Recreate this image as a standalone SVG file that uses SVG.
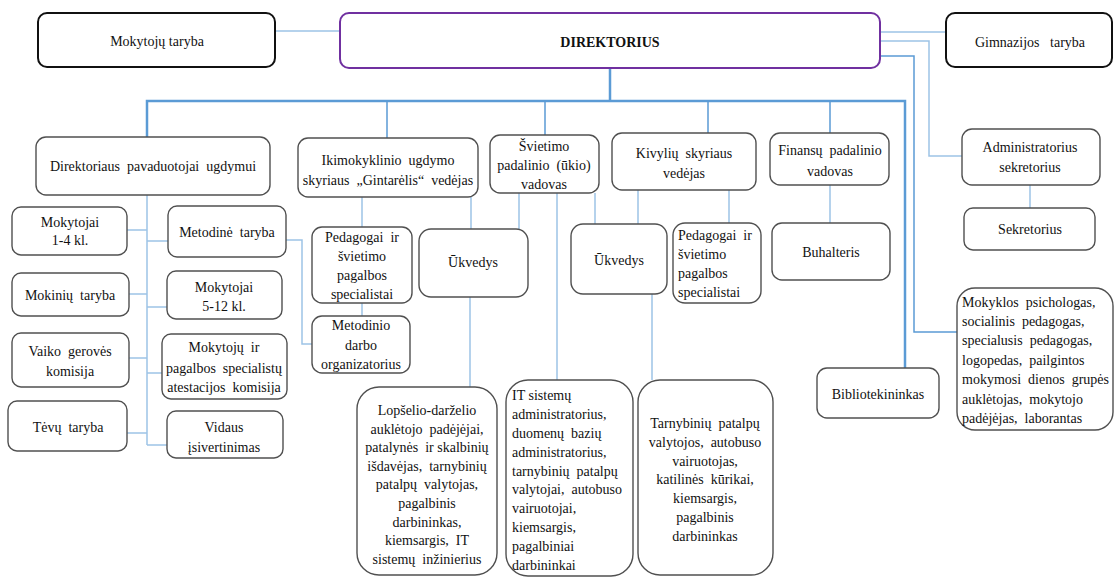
<svg xmlns="http://www.w3.org/2000/svg" width="1114" height="577" viewBox="0 0 1114 577">
<style>
text{font-family:"Liberation Serif","Times New Roman",serif;font-size:14px;fill:#111;}
.c{text-anchor:middle;}
.b{fill:#fff;stroke:#505050;stroke-width:1.4;}
.top{fill:#fff;stroke:#111;stroke-width:2;}
.dir{fill:#fff;stroke:#7030A0;stroke-width:2;}
.ln{fill:none;stroke:#9DC3E6;stroke-width:1.5;}
.lm{fill:none;stroke:#5B9BD5;stroke-width:1.5;}
.bus{fill:none;stroke:#5B9BD5;stroke-width:2.5;}
</style>
<rect width="1114" height="577" fill="#fff"/>
<g id="connectors">
<path class="ln" d="M275,31H340"/>
<path class="ln" d="M880,32H946"/>
<path class="ln" d="M880,41H929V156H962"/>
<path class="lm" d="M880,56H914V332H957"/>
<path class="bus" d="M610,68V101"/>
<path class="bus" d="M147,137V101H905V368"/>
<path class="lm" d="M387,101V138M545,101V135M708,101V133M830,101V133"/>
<path class="ln" d="M1030,185V208"/>
<path class="ln" d="M147,195V445"/>
<path class="ln" d="M127,230H147M147,241H168M129,294H147M147,307H167M129,358H147M147,373H162M127,433H147M147,445H167"/>
<path class="ln" d="M286,240H302V344H312"/>
<path class="ln" d="M362,197V227M362,303V316"/>
<path class="ln" d="M471,197V229M519,193V229"/>
<path class="ln" d="M470,297V387"/>
<path class="ln" d="M557,193V380"/>
<path class="ln" d="M595,193V224M638,190V224"/>
<path class="ln" d="M652,294V380"/>
<path class="ln" d="M729,190V223"/>
<path class="ln" d="M830,185V223"/>
</g>
<g id="mokytoju-taryba"><rect class="top" x="38" y="13" width="237" height="54" rx="9"/><text class="c" x="157" y="46">Mokytojų taryba</text></g>
<g id="direktorius"><rect class="dir" x="340" y="13" width="540" height="55" rx="9"/><text class="c" x="610" y="47" font-weight="bold">DIREKTORIUS</text></g>
<g id="gimnazijos-taryba"><rect class="top" x="946" y="13" width="166" height="54" rx="9"/><text class="c" x="1030" y="47" xml:space="preserve">Gimnazijos   taryba</text></g>
<g id="pavaduotojai"><rect class="b" x="36" y="137" width="234" height="58" rx="10"/><text class="c" x="153" y="171" xml:space="preserve">Direktoriaus  pavaduotojai  ugdymui</text></g>
<g id="ikimokyklinio"><rect class="b" x="298" y="138" width="180" height="59" rx="10"/><text class="c" x="388" y="165" xml:space="preserve">Ikimokyklinio  ugdymo</text><text class="c" x="388" y="185" xml:space="preserve">skyriaus  „Gintarėlis“  vedėjas</text></g>
<g id="svietimo"><rect class="b" x="490" y="135" width="109" height="58" rx="10"/><text class="c" x="544" y="151">Švietimo</text><text class="c" x="544" y="170" xml:space="preserve">padalinio  (ūkio)</text><text class="c" x="544" y="189">vadovas</text></g>
<g id="kivyliu"><rect class="b" x="612" y="133" width="144" height="57" rx="10"/><text class="c" x="684" y="158" xml:space="preserve">Kivylių  skyriaus</text><text class="c" x="684" y="178">vedėjas</text></g>
<g id="finansu"><rect class="b" x="770" y="133" width="119" height="52" rx="10"/><text class="c" x="830" y="155" xml:space="preserve">Finansų  padalinio</text><text class="c" x="830" y="176">vadovas</text></g>
<g id="administratorius"><rect class="b" x="962" y="129" width="138" height="56" rx="10"/><text class="c" x="1030" y="152">Administratorius</text><text class="c" x="1030" y="172">sekretorius</text></g>
<g id="sekretorius"><rect class="b" x="964" y="208" width="131" height="42" rx="9"/><text class="c" x="1030" y="234">Sekretorius</text></g>
<g id="mokytojai-1-4"><rect class="b" x="12" y="207" width="115" height="48" rx="9"/><text class="c" x="70" y="227">Mokytojai</text><text class="c" x="70" y="245">1-4 kl.</text></g>
<g id="metodine-taryba"><rect class="b" x="168" y="206" width="118" height="51" rx="9"/><text class="c" x="227" y="237" xml:space="preserve">Metodinė  taryba</text></g>
<g id="mokiniu-taryba"><rect class="b" x="12" y="273" width="117" height="43" rx="9"/><text class="c" x="70" y="300" xml:space="preserve">Mokinių  taryba</text></g>
<g id="mokytojai-5-12"><rect class="b" x="167" y="271" width="115" height="48" rx="9"/><text class="c" x="224" y="292">Mokytojai</text><text class="c" x="224" y="311">5-12 kl.</text></g>
<g id="vaiko-geroves"><rect class="b" x="12" y="333" width="117" height="54" rx="9"/><text class="c" x="70" y="356" xml:space="preserve">Vaiko  gerovės</text><text class="c" x="70" y="376">komisija</text></g>
<g id="atestacijos"><rect class="b" x="162" y="334" width="125" height="65" rx="9"/><text class="c" x="224" y="352" xml:space="preserve">Mokytojų  ir</text><text class="c" x="224" y="373" xml:space="preserve">pagalbos  specialistų</text><text class="c" x="224" y="392" xml:space="preserve">atestacijos  komisija</text></g>
<g id="tevu-taryba"><rect class="b" x="8" y="401" width="119" height="50" rx="9"/><text class="c" x="68" y="432" xml:space="preserve">Tėvų  taryba</text></g>
<g id="vidaus"><rect class="b" x="167" y="411" width="116" height="47" rx="9"/><text class="c" x="224" y="432">Vidaus</text><text class="c" x="224" y="452">įsivertinimas</text></g>
<g id="pedagogai-1"><rect class="b" x="312" y="227" width="100" height="76" rx="10"/><text class="c" x="362" y="242" xml:space="preserve">Pedagogai  ir</text><text class="c" x="362" y="261">švietimo</text><text class="c" x="362" y="280">pagalbos</text><text class="c" x="362" y="299">specialistai</text></g>
<g id="metodinio"><rect class="b" x="312" y="316" width="98" height="57" rx="10"/><text class="c" x="361" y="330">Metodinio</text><text class="c" x="361" y="350">darbo</text><text class="c" x="361" y="369">organizatorius</text></g>
<g id="ukvedys-1"><rect class="b" x="419" y="229" width="109" height="68" rx="12"/><text class="c" x="473" y="267">Ūkvedys</text></g>
<g id="ukvedys-2"><rect class="b" x="571" y="224" width="96" height="70" rx="12"/><text class="c" x="619" y="265">Ūkvedys</text></g>
<g id="pedagogai-2"><rect class="b" x="673" y="223" width="88" height="80" rx="12"/><text x="678" y="240" xml:space="preserve">Pedagogai  ir</text><text x="678" y="259">švietimo</text><text x="678" y="278">pagalbos</text><text x="678" y="297">specialistai</text></g>
<g id="buhalteris"><rect class="b" x="772" y="223" width="118" height="57" rx="10"/><text class="c" x="831" y="257">Buhalteris</text></g>
<g id="bibliotekininkas"><rect class="b" x="817" y="368" width="122" height="50" rx="10"/><text class="c" x="878" y="399">Bibliotekininkas</text></g>
<g id="mokyklos-psichologas"><rect class="b" x="957" y="288" width="156" height="142" rx="18"/>
<text x="962" y="307" xml:space="preserve">Mokyklos  psichologas,</text><text x="962" y="326" xml:space="preserve">socialinis  pedagogas,</text><text x="962" y="345" xml:space="preserve">specialusis  pedagogas,</text><text x="962" y="365" xml:space="preserve">logopedas,  pailgintos</text><text x="962" y="384" xml:space="preserve">mokymosi  dienos  grupės</text><text x="962" y="404" xml:space="preserve">auklėtojas,  mokytojo</text><text x="962" y="423" xml:space="preserve">padėjėjas,  laborantas</text></g>
<g id="lopselio"><rect class="b" x="357" y="387" width="140" height="188" rx="22"/>
<text class="c" x="427" y="415">Lopšelio-darželio</text><text class="c" x="427" y="434" xml:space="preserve">auklėtojo  padėjėjai,</text><text class="c" x="427" y="452" xml:space="preserve">patalynės  ir skalbinių</text><text class="c" x="427" y="471" xml:space="preserve">išdavėjas,  tarnybinių</text><text class="c" x="427" y="489" xml:space="preserve">patalpų  valytojas,</text><text class="c" x="427" y="508">pagalbinis</text><text class="c" x="427" y="527">darbininkas,</text><text class="c" x="427" y="545" xml:space="preserve">kiemsargis,  IT</text><text class="c" x="427" y="564" xml:space="preserve">sistemų  inžinierius</text></g>
<g id="it-sistemu"><rect class="b" x="506" y="380" width="127" height="196" rx="22"/>
<text x="512" y="400">IT sistemų</text><text x="512" y="419">administratorius,</text><text x="512" y="438" xml:space="preserve">duomenų  bazių</text><text x="512" y="457">administratorius,</text><text x="512" y="476" xml:space="preserve">tarnybinių  patalpų</text><text x="512" y="494" xml:space="preserve">valytojai,  autobuso</text><text x="512" y="513">vairuotojai,</text><text x="512" y="532">kiemsargis,</text><text x="512" y="551">pagalbiniai</text><text x="512" y="570">darbininkai</text></g>
<g id="tarnybiniu"><rect class="b" x="638" y="380" width="135" height="195" rx="22"/>
<text class="c" x="705" y="428" xml:space="preserve">Tarnybinių  patalpų</text><text class="c" x="705" y="447" xml:space="preserve">valytojos,  autobuso</text><text class="c" x="705" y="466">vairuotojas,</text><text class="c" x="705" y="484" xml:space="preserve">katilinės  kūrikai,</text><text class="c" x="705" y="503">kiemsargis,</text><text class="c" x="705" y="522">pagalbinis</text><text class="c" x="705" y="541">darbininkas</text></g>
</svg>
